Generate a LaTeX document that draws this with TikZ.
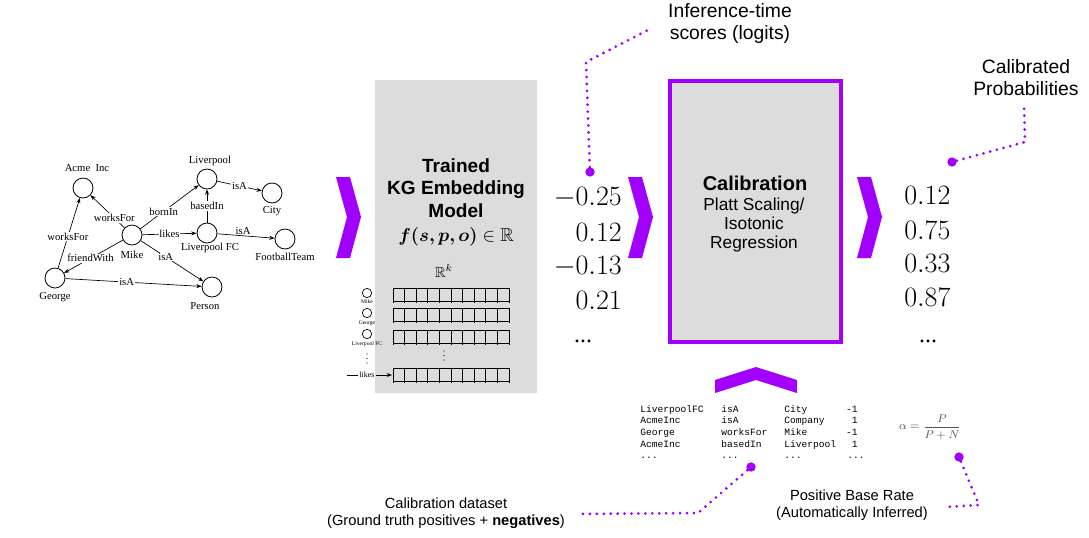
\documentclass[tikz,border=0pt]{standalone}
\usepackage{fix-cm}
\usepackage{amsmath}
\usepackage{amssymb}
\usepackage{bm}
\usepackage{fontspec}
\setmainfont{Liberation Sans}
\setmonofont{Liberation Mono}
\newfontfamily\graphfont{Liberation Serif}
\usepackage{xcolor}
\usepackage{tikz}
\usetikzlibrary{arrows.meta}
\definecolor{purple}{RGB}{161, 0, 255}
\definecolor{boxgray}{RGB}{220, 220, 220}
\definecolor{fracgray}{RGB}{85, 85, 85}

\begin{document}
\begin{tikzpicture}[x=0.75pt,y=0.75pt,yscale=-1,xscale=1,
  entity/.style={circle,draw,line width=0.6pt,inner sep=0pt,minimum size=15pt},
  entlabel/.style={font=\graphfont\fontsize{8}{9}\selectfont,inner sep=0.5pt},
  relation/.style={-{Stealth[length=4pt,width=3pt]},line width=0.5pt},
  rellabel/.style={font=\graphfont\fontsize{8}{9}\selectfont,fill=white,inner sep=0.6pt},
  tinyent/.style={circle,draw,line width=0.5pt,inner sep=0pt,minimum size=7pt},
  tinylabel/.style={font=\graphfont\fontsize{4.2}{5}\selectfont,inner sep=0pt},
  callline/.style={draw=purple,line width=2.3pt,line cap=round,dash pattern=on 0pt off 5.2pt},
  calldot/.style={circle,fill=purple,inner sep=0pt,minimum size=7pt},
  bigcallout/.style={align=center,font=\fontsize{14.5}{16.5}\selectfont},
  smallcallout/.style={align=center,font=\fontsize{11}{12.75}\selectfont},
  score/.style={font=\fontsize{21}{21}\selectfont,anchor=east,inner sep=0pt},
  prob/.style={font=\fontsize{21}{21}\selectfont,anchor=west,inner sep=0pt},
  triple/.style={font=\ttfamily\fontsize{7.2}{8}\selectfont,anchor=base west,inner sep=0pt}
  ]
\useasboundingbox (0,0) rectangle (1089,537);

% Knowledge graph
\node[entity] (acme) at (83,188) {};
\node[entity] (lpool) at (207,179) {};
\node[entity] (city) at (272,193) {};
\node[entity] (mike) at (132,235) {};
\node[entity] (lfc) at (207,233) {};
\node[entity] (fteam) at (285,239) {};
\node[entity] (george) at (55,278) {};
\node[entity] (person) at (212,287) {};
% Text Node
\node[entlabel] (acmelbl) at (87,168) {Acme\ \ Inc};
\node[entlabel] (lpoollbl) at (210,161) {Liverpool};
\node[entlabel] (citylbl) at (272,211) {City};
\node[entlabel] (mikelbl) at (132,255) {Mike};
\node[entlabel] (lfclbl) at (210,248) {Liverpool FC};
\node[entlabel] (fteamlbl) at (285,257) {FootballTeam};
\node[entlabel] (georgelbl) at (55,297) {George};
\node[entlabel] (personlbl) at (205,306) {Person};

\draw[relation] (mike) -- node[rellabel,pos=0.3] (rwf1) {worksFor} (acme);
\draw[relation] (george) -- node[rellabel,pos=0.45] (rwf2) {worksFor} (acme);
\draw[relation] (mike) -- node[rellabel,pos=0.4] (rborn) {bornIn} (lpool);
\draw[relation] (lpool) -- node[rellabel] (risa1) {isA} (city);
\draw[relation] (lfc) -- node[rellabel] (rbased) {basedIn} (lpool);
\draw[relation] (mike) -- node[rellabel] (rlikes) {likes} (lfc);
\draw[relation] (lfc) -- node[rellabel,above,fill=none,pos=0.45] (risa2) {isA} (fteam);
\draw[relation] (mike) -- node[rellabel,pos=0.55] (rfriend) {friendWith} (george);
\draw[relation] (mike) -- node[rellabel,pos=0.4] (risa3) {isA} (person);
\draw[relation] (george) -- node[rellabel,pos=0.45] (risa4) {isA} (person);

% Chevrons
\foreach \cx in {336,628,857}
  \fill[purple] (\cx,177) -- (\cx+14,177) -- (\cx+25,217) -- (\cx+14,258) -- (\cx,258) -- (\cx+11,217) -- cycle;
\fill[purple] (715,380) -- (756,367) -- (797,380) -- (797,393) -- (756,380) -- (715,393) -- cycle;

% KG embedding model
\node[fill=boxgray,inner sep=0pt,minimum width=121.5pt,minimum height=234.75pt] (kgbox) at (456,236.5) {};
\node[align=center,font=\bfseries\fontsize{14.3}{16.9}\selectfont] (kgtitle) at (456,188) {Trained\\KG Embedding\\Model};
\node[font=\fontsize{14}{16}\selectfont] (kgscore) at (456,237) {$\boldsymbol{f(s,p,o)}\in\mathbb{R}$};
\node[font=\fontsize{11}{12}\selectfont] (kgdim) at (444,271) {$\mathbb{R}^k$};

\foreach \ry in {288,308,330,368} {
  \draw[line width=0.6pt] (393,\ry) rectangle (509,\ry+13);
  \foreach \c in {0,...,10}
    \draw[line width=0.6pt] (393+\c*11.6,\ry) -- (393+\c*11.6,\ry+15);
}
\coordinate (rowlikes) at (392,375);

\node[tinyent] (emike) at (367,293) {};
\node[tinylabel] (emikelbl) at (367,302) {Mike};
\node[tinyent] (egeorge) at (367,313) {};
\node[tinylabel] (egeorgelbl) at (367,323) {George};
\node[tinyent] (elfc) at (367,334) {};
\node[tinylabel] (elfclbl) at (367,344) {Liverpool FC};
% vertical dots
\foreach \dy in {0,4.5,9} {
  \fill (367,354+\dy) circle (0.5pt);
  \fill (444,351+\dy) circle (0.5pt);
}
\coordinate (likesfrom) at (347,375);
\node[font=\graphfont\fontsize{6}{6}\selectfont,inner sep=1pt] (likeslbl) at (367,375) {likes};
\draw[line width=0.5pt] (likesfrom) -- (likeslbl.west);
\draw[relation] (likeslbl.east) -- (rowlikes);

% Scores (logits)
\node[score] (s1) at (622,198) {$-0.25$};
\node[score] (s2) at (622,232) {$0.12$};
\node[score] (s3) at (622,267) {$-0.13$};
\node[score] (s4) at (622,300) {$0.21$};
\node[font=\graphfont\fontsize{18}{18}\selectfont,inner sep=0pt] (sdots) at (583,341) {...};

% Calibration
\node[draw=purple,line width=3pt,fill=boxgray,inner sep=0pt,minimum width=128.25pt,minimum height=195.75pt] (calbox) at (755.5,211.5) {};
\node[font=\bfseries\fontsize{15}{17}\selectfont] (caltitle) at (755,183) {Calibration};
\node[align=center,font=\fontsize{13}{14.6}\selectfont] (calmethod) at (754,225) {Platt Scaling/\\Isotonic\\Regression};

% Calibrated probabilities
\node[prob] (p1) at (904,195) {$0.12$};
\node[prob] (p2) at (904,230) {$0.75$};
\node[prob] (p3) at (904,263) {$0.33$};
\node[prob] (p4) at (904,297) {$0.87$};
\node[font=\graphfont\fontsize{18}{18}\selectfont,inner sep=0pt] (pdots) at (928,341) {...};

% Calibration dataset
\foreach \s/\p/\o/\v [count=\i from 0] in {LiverpoolFC/isA/City/-1,AcmeInc/isA/Company/1,George/worksFor/Mike/-1,AcmeInc/basedIn/Liverpool/1} {
  \node[triple] (sub\i) at (640,412+\i*11.7) {\s};
  \node[triple] (pred\i) at (721,412+\i*11.7) {\p};
  \node[triple] (obj\i) at (784,412+\i*11.7) {\o};
  \node[triple,anchor=base east] (lab\i) at (858,412+\i*11.7) {\v};
}
\foreach \cx [count=\j] in {640,721,784,847}
  \node[triple] (tdots\j) at (\cx,458) {...};
\node[text=fracgray,font=\fontsize{8.5}{9}\selectfont] (alpha) at (930,427) {$\alpha=\dfrac{P}{P+N}$};

% Callouts
\node[calldot] (dotlogits) at (590,172) {};
\coordinate (bendlogits) at (586,62);
\coordinate (endlogits) at (652,28);
\draw[callline] (dotlogits) -- (bendlogits) -- (endlogits);
\node[bigcallout] (txtlogits) at (730,23) {Inference-time\\scores (logits)};

\node[calldot] (dotprob) at (952,162) {};
\coordinate (bendprob) at (1025,142);
\coordinate (endprob) at (1024,104);
\draw[callline] (dotprob) -- (bendprob) -- (endprob);
\node[bigcallout] (txtprob) at (1026,78) {Calibrated\\Probabilities};

\node[calldot] (dotdata) at (751,467) {};
\coordinate (benddata) at (698,513);
\coordinate (enddata) at (578,514);
\draw[callline] (dotdata) -- (benddata) -- (enddata);
\node[smallcallout] (txtdata) at (446,513) {Calibration dataset\\(Ground truth positives + \textbf{negatives})};

\node[calldot] (dotbase) at (959,457) {};
\coordinate (bendbase) at (979,505);
\coordinate (endbase) at (945,507);
\draw[callline] (dotbase) -- (bendbase) -- (endbase);
\node[smallcallout] (txtbase) at (852,505.5) {Positive Base Rate\\(Automatically Inferred)};

\end{tikzpicture}
\end{document}
